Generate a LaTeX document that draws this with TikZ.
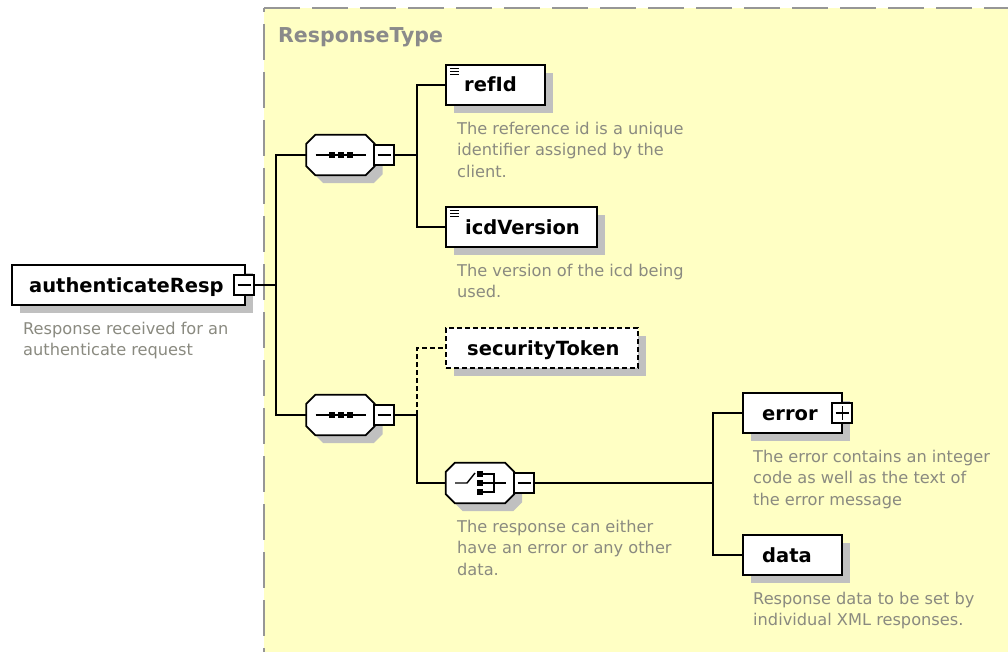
\documentclass[tikz,border=0pt]{standalone}
\usepackage{fontspec}
\setmainfont{DejaVu Sans}
\usetikzlibrary{shadows}
\definecolor{bgyellow}{RGB}{255,255,196}
\definecolor{framegray}{RGB}{150,150,150}
\definecolor{shadowgray}{RGB}{192,192,192}
\definecolor{descgray}{RGB}{138,138,128}
\definecolor{titlegray}{RGB}{138,138,138}
\newcommand{\octpath}[1]{([xshift=9pt]#1.north west) -- ([xshift=-9pt]#1.north east) -- ([yshift=-9pt]#1.north east) -- ([yshift=9pt]#1.south east) -- ([xshift=-9pt]#1.south east) -- ([xshift=9pt]#1.south west) -- ([yshift=9pt]#1.south west) -- ([yshift=-9pt]#1.north west) -- cycle}
\newcommand{\drawoct}[1]{%
  \fill[shadowgray,transform canvas={xshift=8pt,yshift=-8pt}] \octpath{#1};
  \draw[fill=white,line width=1.8pt] \octpath{#1};}
\begin{document}
\begin{tikzpicture}[x=1pt,y=-1pt,line join=miter,
  shad/.style={general shadow={fill=shadowgray,shadow xshift=8pt,shadow yshift=-8pt}},
  elbox/.style={rectangle,draw=black,fill=white,line width=1.8pt,minimum height=40pt,inner sep=0pt,shad},
  optbox/.style={elbox,dash pattern=on 5pt off 3pt},
  compbox/.style={rectangle,minimum width=68pt,minimum height=40pt,inner sep=0pt},
  minusbox/.style={rectangle,draw=black,fill=white,line width=1.5pt,minimum size=20pt,inner sep=0pt,
    path picture={\draw[line width=1.4pt] ([xshift=3.5pt]path picture bounding box.west) -- ([xshift=-3.5pt]path picture bounding box.east);}},
  plusbox/.style={minusbox,
    append after command={[line width=1.4pt] ([yshift=-3.5pt]\tikzlastnode.north) edge ([yshift=3.5pt]\tikzlastnode.south)}},
  lbl/.style={inner sep=0pt,anchor=base west,font=\fontsize{19.5}{22}\selectfont\bfseries},
  desc/.style={anchor=north west,inner sep=0pt,align=left,text=descgray,font=\fontsize{16.2}{21.7}\selectfont},
  conn/.style={draw=black,line width=1.6pt},
  optconn/.style={conn,dash pattern=on 5pt off 3pt},
  icon/.style={line width=1.4pt}]
\useasboundingbox (0,0) rectangle (1008,652);
\fill[white] (0,0) rectangle (1008,652);
% type frame
\fill[bgyellow] (264,8.5) rectangle (1008,652);
\draw[framegray,line width=2pt,dash pattern=on 36pt off 12pt] (264,8.5) -- (1008,8.5);
\draw[framegray,line width=2pt,dash pattern=on 36pt off 12pt,dash phase=32.5pt] (264,8.5) -- (264,652);
\node[anchor=base west,inner sep=0pt,text=titlegray,font=\fontsize{20.5}{22}\selectfont\bfseries] (title) at (278,43) {ResponseType};

% root element
\node[elbox,minimum width=233pt] (auth) at (128.5,285) {};
\node[lbl] (authL) at (29,292) {authenticateResp};
\node[minusbox] (authM) at (244,285) {};
\node[desc] (authD) at (23,321.7) {Response received for an\\authenticate request};

% sequence 1
\node[compbox] (seqA) at (340.5,155) {};
\drawoct{seqA}
\node[minusbox] (seqAM) at (384,155) {};
\begin{scope}[shift={(seqA.center)}]
  \draw[icon] (-25,0) -- (25,0);
  \foreach \dx in {-8.5,0.5,9.5} \fill (\dx-3,-3) rectangle (\dx+3,3);
\end{scope}

% sequence 2
\node[compbox] (seqB) at (340.5,415) {};
\drawoct{seqB}
\node[minusbox] (seqBM) at (384,415) {};
\begin{scope}[shift={(seqB.center)}]
  \draw[icon] (-25,0) -- (25,0);
  \foreach \dx in {-8.5,0.5,9.5} \fill (\dx-3,-3) rectangle (\dx+3,3);
\end{scope}

% refId
\node[elbox,minimum width=99pt] (refId) at (495.5,85) {};
\node[lbl] (refIdL) at (464,92) {refId};
\draw[line width=0.9pt] (450,68) -- (459,68) (450,71) -- (459,71) (450,74) -- (459,74);
\node[desc] (refIdD) at (457,121.7) {The reference id is a unique\\identifier assigned by the\\client.};

% icdVersion
\node[elbox,minimum width=151pt] (icd) at (521.5,227) {};
\node[lbl] (icdL) at (465,234) {icdVersion};
\draw[line width=0.9pt] (450,210) -- (459,210) (450,213) -- (459,213) (450,216) -- (459,216);
\node[desc] (icdD) at (457,263.7) {The version of the icd being\\used.};

% securityToken
\node[optbox,minimum width=192pt] (sec) at (542,348) {};
\node[lbl] (secL) at (467,355) {securityToken};

% choice
\node[compbox] (choice) at (480,483) {};
\drawoct{choice}
\node[minusbox] (choiceM) at (524,483) {};
\begin{scope}[shift={(choice.center)}]
  \draw[icon] (-25,0) -- (-13,0) -- (-5,-10);
  \foreach \dy in {-9,0,9} \fill (-3,\dy-3) rectangle (3,\dy+3);
  \draw[line width=1.3pt] (3,-9) -- (14,-9) -- (14,9) -- (3,9) (3,0) -- (26,0);
\end{scope}
\node[desc] (choiceD) at (457,519.7) {The response can either\\have an error or any other\\data.};

% error
\node[elbox,minimum width=99pt] (err) at (792.5,413) {};
\node[lbl] (errL) at (762,420) {error};
\node[plusbox] (errP) at (842,413) {};
\node[desc] (errD) at (753,449.7) {The error contains an integer\\code as well as the text of\\the error message};

% data
\node[elbox,minimum width=99pt] (data) at (792.5,555) {};
\node[lbl] (dataL) at (762,562) {data};
\node[desc] (dataD) at (753,591.7) {Response data to be set by\\individual XML responses.};

% junctions
\coordinate (j0) at (276,285);
\coordinate (j1) at (417,155);
\coordinate (j2) at (417,415);
\coordinate (j3) at (713,483);

% connectors
\draw[conn] (authM.east) -- (j0);
\draw[conn] (j0) |- (seqA.west);
\draw[conn] (j0) |- (seqB.west);
\draw[conn] (seqAM.east) -- (j1);
\draw[conn] (j1) |- (refId.west);
\draw[conn] (j1) |- (icd.west);
\draw[conn] (seqBM.east) -- (j2);
\draw[optconn] (j2) |- (sec.west);
\draw[conn] (j2) |- (choice.west);
\draw[conn] (choiceM.east) -- (j3);
\draw[conn] (j3) |- (err.west);
\draw[conn] (j3) |- (data.west);
\end{tikzpicture}
\end{document}
